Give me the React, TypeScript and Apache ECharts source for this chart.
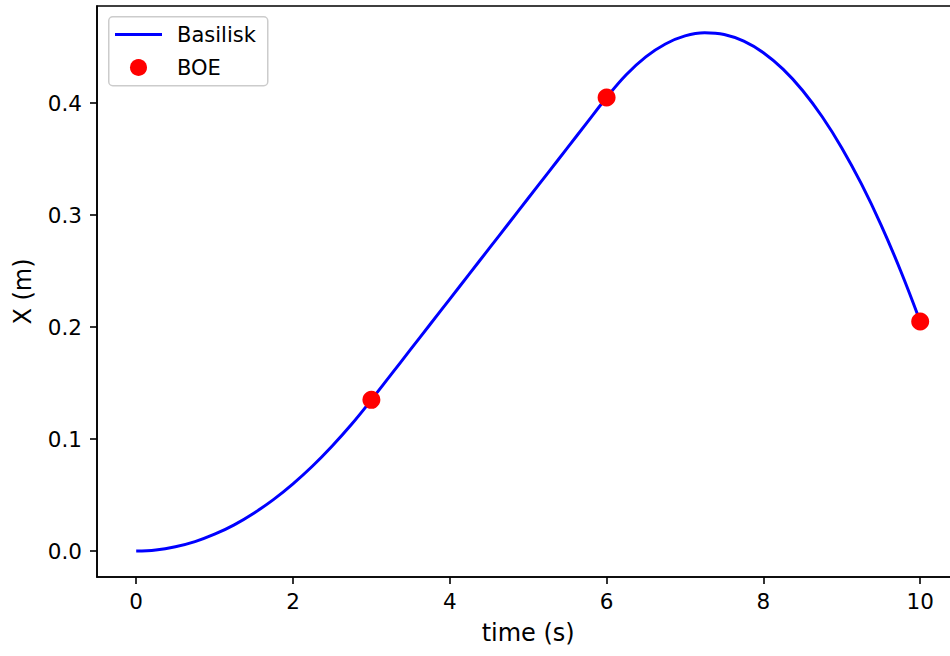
import React, { useEffect, useRef } from "react";
import * as echarts from "echarts";

// Basilisk simulation, every 0.25 s
const timeS = [
  0, 0.25, 0.5, 0.75, 1, 1.25, 1.5, 1.75, 2, 2.25, 2.5, 2.75, 3, 3.25, 3.5, 3.75,
  4, 4.25, 4.5, 4.75, 5, 5.25, 5.5, 5.75, 6, 6.25, 6.5, 6.75, 7, 7.25, 7.5, 7.75,
  8, 8.25, 8.5, 8.75, 9, 9.25, 9.5, 9.75, 10,
];
const basiliskX = [
  0, 0.0009, 0.0038, 0.0084, 0.015, 0.0234, 0.0338, 0.0459, 0.06, 0.0759, 0.0938,
  0.1134, 0.135, 0.1575, 0.18, 0.2025, 0.225, 0.2475, 0.27, 0.2925, 0.315, 0.3375,
  0.36, 0.3825, 0.405, 0.4253, 0.4413, 0.4528, 0.46, 0.4628, 0.4613, 0.4553, 0.445,
  0.4303, 0.4113, 0.3878, 0.36, 0.3278, 0.2913, 0.2503, 0.205,
];

// BOE points
const boeTime = [3, 6, 10];
const boeX = [0.135, 0.405, 0.205];

// Tick labels
const xTicks = [0, 2, 4, 6, 8, 10];
const yTicks = [0, 0.1, 0.2, 0.3, 0.4];

const FONT = "DejaVu Sans";

export default function App() {
  const ref = useRef<HTMLDivElement>(null);

  useEffect(() => {
    if (!ref.current) return;
    const chart = echarts.init(ref.current, null, { renderer: "svg" });

    const axisLine = { show: true, onZero: false, lineStyle: { color: "#000", width: 1.6 } };
    const tickBase = { show: true, length: 7, lineStyle: { color: "#000", width: 1.6 } };

    chart.setOption({
      animation: false,
      backgroundColor: "#fff",
      textStyle: { fontFamily: FONT },
      grid: {
        left: 97,
        top: 6,
        right: 0.6,
        bottom: 79,
        show: true,
        borderColor: "#000",
        borderWidth: 1.6,
        backgroundColor: "transparent",
      },
      xAxis: {
        type: "value",
        min: -0.5,
        max: 10.5,
        name: "time (s)",
        nameLocation: "middle",
        nameGap: 44,
        nameTextStyle: { fontSize: 24, color: "#000", fontFamily: FONT },
        axisLine,
        splitLine: { show: false },
        axisTick: { ...tickBase, customValues: xTicks },
        axisLabel: {
          customValues: xTicks,
          fontSize: 21.5,
          color: "#000",
          fontFamily: FONT,
          margin: 13,
          formatter: (v: number) => String(v),
        },
      },
      yAxis: {
        type: "value",
        min: -0.0232,
        max: 0.4867,
        name: "X (m)",
        nameLocation: "middle",
        nameGap: 62,
        nameTextStyle: { fontSize: 24, color: "#000", fontFamily: FONT },
        axisLine,
        splitLine: { show: false },
        axisTick: { ...tickBase, customValues: yTicks },
        axisLabel: {
          customValues: yTicks,
          fontSize: 21.5,
          color: "#000",
          fontFamily: FONT,
          margin: 15,
          formatter: (v: number) => v.toFixed(1),
        },
      },
      graphic: [
        {
          type: "rect",
          left: 108,
          top: 16,
          z: 90,
          shape: { width: 159, height: 69, r: 4 },
          style: { fill: "rgba(255,255,255,0.8)", stroke: "#cccccc", lineWidth: 1.5 },
        },
      ],
      legend: [
        {
          data: [{ name: "Basilisk", icon: "rect" }],
          orient: "vertical",
          left: 115,
          top: 24,
          padding: 0,
          itemWidth: 47,
          itemHeight: 3,
          z: 100,
          selectedMode: false,
          textStyle: { fontSize: 21, color: "#000", fontFamily: FONT, padding: [0, 0, 0, 10] },
        },
        {
          data: [{ name: "BOE", icon: "circle" }],
          orient: "vertical",
          left: 130,
          top: 57,
          padding: 0,
          itemWidth: 47,
          itemHeight: 17,
          z: 100,
          selectedMode: false,
          textStyle: { fontSize: 21, color: "#000", fontFamily: FONT, padding: [0, 0, 0, 10] },
        },
      ],
      series: [
        {
          name: "Basilisk",
          type: "line",
          data: timeS.map((t, i) => [t, basiliskX[i]]),
          showSymbol: false,
          symbol: "none",
          smooth: 0.4,
          lineStyle: { color: "#0000ff", width: 3 },
          itemStyle: { color: "#0000ff" },
          z: 2,
        },
        {
          name: "BOE",
          type: "scatter",
          data: boeTime.map((t, i) => [t, boeX[i]]),
          symbol: "circle",
          symbolSize: 18,
          itemStyle: { color: "#ff0000", opacity: 1 },
          z: 3,
        },
      ],
    });

    return () => chart.dispose();
  }, []);

  return (
    <div
      style={{
        position: "absolute",
        left: 0,
        top: 0,
        width: 950,
        height: 656,
        overflow: "hidden",
      }}
    >
      <div ref={ref} style={{ width: 960, height: 656 }} />
    </div>
  );
}
